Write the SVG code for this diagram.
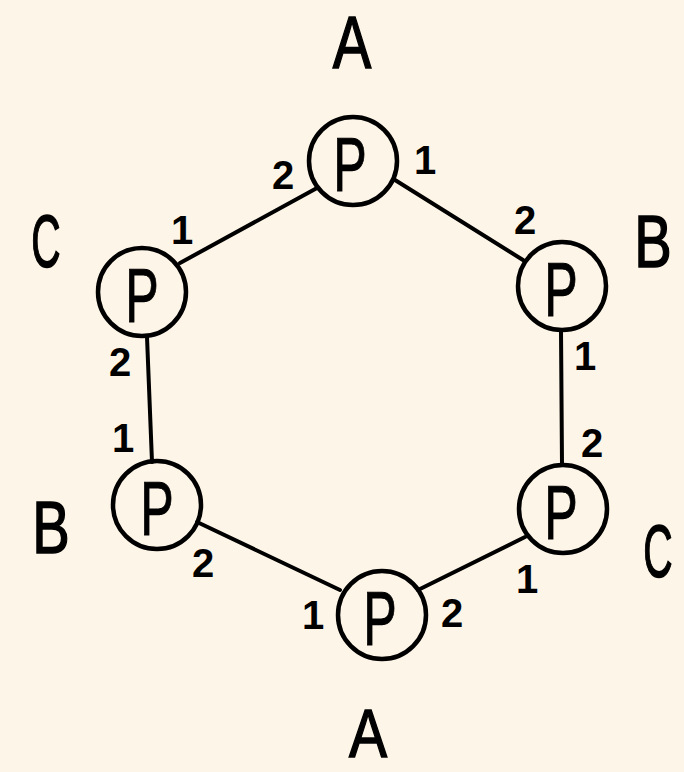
<svg xmlns="http://www.w3.org/2000/svg" width="684" height="772" viewBox="0 0 684 772">
<style>
.bg{fill:#fdf5e7}
.node{fill:none;stroke:#000;stroke-width:4.5}
.edge{stroke:#000;stroke-width:4;stroke-linecap:round;fill:none}
.p{font-family:"Liberation Sans",Arial,sans-serif;font-size:76px;text-anchor:middle;fill:#000;stroke:#000;stroke-width:1}
.big{font-family:"Liberation Sans",Arial,sans-serif;font-size:74px;text-anchor:middle;fill:#000;stroke:#000;stroke-width:1.5}
.num{font-family:"Liberation Sans",Arial,sans-serif;font-size:40px;font-weight:bold;text-anchor:middle;fill:#000}
</style>
<rect class="bg" x="0" y="0" width="684" height="772"/>
<g id="connectors">
<line class="edge" x1="317" y1="188" x2="180" y2="263"/>
<line class="edge" x1="395" y1="180" x2="523" y2="260"/>
<line class="edge" x1="147" y1="337" x2="152" y2="462"/>
<line class="edge" x1="197" y1="522" x2="340" y2="590"/>
<line class="edge" x1="418" y1="590" x2="525" y2="537"/>
<line class="edge" x1="561" y1="330" x2="562" y2="465"/>
</g>
<g id="node-top-A">
<circle class="node" cx="353" cy="161" r="44"/>
<text class="p" transform="translate(350,191) scale(0.66,1)">P</text>
<text class="big" transform="translate(352,68) scale(0.78,1)">A</text>
<text class="num" x="283" y="189">2</text>
<text class="num" x="425" y="174">1</text>
</g>
<g id="node-left-C">
<circle class="node" cx="142" cy="292" r="44"/>
<text class="p" transform="translate(142,322) scale(0.66,1)">P</text>
<text class="big" transform="translate(46,267) scale(0.55,1)">C</text>
<text class="num" x="182" y="244">1</text>
<text class="num" x="120" y="376">2</text>
</g>
<g id="node-left-B">
<circle class="node" cx="157" cy="505" r="44"/>
<text class="p" transform="translate(157,535) scale(0.66,1)">P</text>
<text class="big" transform="translate(51,553) scale(0.76,1)">B</text>
<text class="num" x="123" y="452">1</text>
<text class="num" x="203" y="577">2</text>
</g>
<g id="node-bottom-A">
<circle class="node" cx="382" cy="615" r="44"/>
<text class="p" transform="translate(380,645) scale(0.66,1)">P</text>
<text class="big" style="font-size:68px" transform="translate(368,757) scale(0.84,1)">A</text>
<text class="num" x="313" y="629">1</text>
<text class="num" x="452" y="627">2</text>
</g>
<g id="node-right-B">
<circle class="node" cx="562" cy="286" r="44"/>
<text class="p" transform="translate(561,316) scale(0.66,1)">P</text>
<text class="big" transform="translate(653,267) scale(0.76,1)">B</text>
<text class="num" x="525" y="234">2</text>
<text class="num" x="585" y="370">1</text>
</g>
<g id="node-right-C">
<circle class="node" cx="563" cy="509" r="44"/>
<text class="p" transform="translate(561,539) scale(0.66,1)">P</text>
<text class="big" transform="translate(658,577) scale(0.55,1)">C</text>
<text class="num" x="592" y="457">2</text>
<text class="num" x="527" y="593">1</text>
</g>
</svg>
